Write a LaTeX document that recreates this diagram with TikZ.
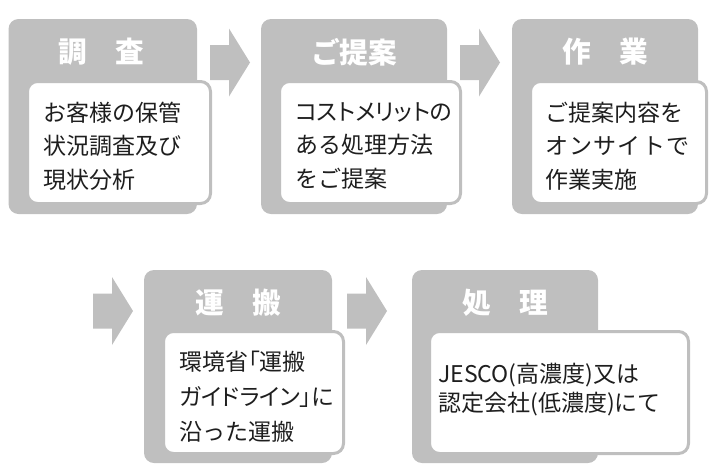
\documentclass[tikz,border=0pt]{standalone}
\usepackage{fontspec}
\setmainfont{Noto Sans CJK JP}
\newfontfamily\jpp{Noto Sans CJK JP}[RawFeature=+palt]
\definecolor{boxgray}{RGB}{191,191,191}
\definecolor{ink}{RGB}{30,30,30}
\tikzset{
  sz/.style 2 args={minimum width=#1*0.75pt, minimum height=#2*0.75pt},
  gbox/.style={fill=boxgray, rounded corners=7.5pt, inner sep=0pt, outer sep=0pt, anchor=north west},
  wbox/.style={fill=white, draw=boxgray, line width=2.25pt, rounded corners=7.5pt, inner sep=0pt, outer sep=0pt, anchor=north west},
  ttl/.style={text=white, font=\fontsize{21.5}{22}\selectfont\bfseries, inner sep=0pt},
  body/.style={text=ink, font=\fontsize{17.25}{25.1}\selectfont, align=left, anchor=west, inner sep=0pt},
  barrow/.pic={\fill[boxgray] (0,-17.5) -- (19,-17.5) -- (19,-34) -- (40,0) -- (19,34) -- (19,17.5) -- (0,17.5) -- cycle;}
}
\begin{document}
\begin{tikzpicture}[x=0.75pt,y=-0.75pt]
\useasboundingbox (0,0) rectangle (710,465);
% gray boxes
\node[gbox, sz={188.5}{195}] (g1) at (8.5,19) {};
\node[gbox, sz={186}{195}] (g2) at (261,19) {};
\node[gbox, sz={186}{195}] (g3) at (512,19) {};
\node[gbox, sz={188}{193}] (g4) at (144,270) {};
\node[gbox, sz={186}{193}] (g5) at (412,270) {};
% white boxes
\node[wbox, sz={183}{122}] (w1) at (27.5,81.5) {};
\node[wbox, sz={181}{122}] (w2) at (279.5,81.5) {};
\node[wbox, sz={176}{122}] (w3) at (530.5,81.5) {};
\node[wbox, sz={180}{122}] (w4) at (163.5,331.5) {};
\node[wbox, sz={259}{122}] (w5) at (429.5,331.5) {};
% titles
\node[ttl] (h1) at (101.5,52) {調\hspace{1em}査};
\node[ttl] (h2) at (354,52) {ご提案};
\node[ttl] (h3) at (605,52) {作\hspace{1em}業};
\node[ttl] (h4) at (238,303) {運\hspace{1em}搬};
\node[ttl] (h5) at (505,303) {処\hspace{1em}理};
% body texts
\node[body] (t1) at (43,146) {お客様の保管\\状況調査及び\\現状分析};
\node[body] (t2) at (295,146) {{\jpp コストメリットの}\\ある処理方法\\をご提案};
\node[body] (t3) at (545,146) {ご提案内容を\\\hbox to 108pt{オ\hfil ン\hfil サ\hfil イ\hfil ト\hfil で}\\作業実施};
\node[body, font=\fontsize{17.25}{26.25}\selectfont] (t4) at (179,397) {環境省{\jpp 「}運搬\\{\jpp ガイドライン」に}\\沿った運搬};
\node[body, font=\fontsize{17.25}{21.75}\selectfont] (t5) at (438,389.5) {JESCO(高濃度)又は\\認定会社(低濃度)にて};
% arrows
\pic (a1) at (210,62.5) {barrow};
\pic (a2) at (460,62.5) {barrow};
\pic (a3) at (93,311) {barrow};
\pic (a4) at (347,311) {barrow};
\end{tikzpicture}
\end{document}
